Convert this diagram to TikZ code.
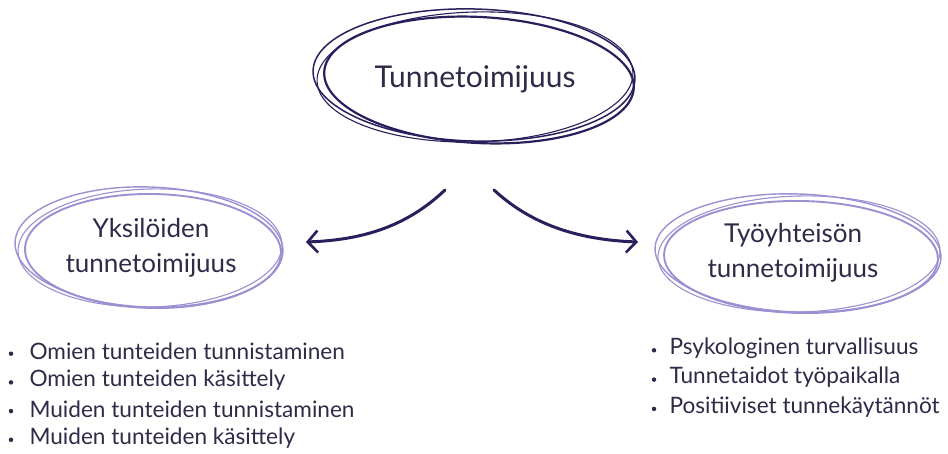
\documentclass[tikz,border=0pt]{standalone}
\usepackage{fontspec}
\setmainfont{Lato}
\usetikzlibrary{arrows.meta}
\definecolor{ink}{HTML}{2E2B48}
\definecolor{navy}{HTML}{2A1E5C}
\definecolor{lilac}{HTML}{9C8FD2}
\tikzset{
  title/.style={font=\fontsize{30}{34}\selectfont, text=ink, align=center},
  sub/.style={font=\fontsize{26}{35}\selectfont, text=ink, align=center},
  item/.style={font=\fontsize{22.6}{29}\selectfont, text=ink, anchor=west},
  bul/.style={circle, fill=ink, inner sep=0pt, minimum size=4.5pt},
  ringdark/.style={draw=navy, line width=#1},
  ringlight/.style={draw=lilac, line width=#1},
  flow/.style={navy, line width=3pt, line cap=round,
    -{Straight Barb[length=10pt,width=22pt,line width=2.6pt]}}
}
\begin{document}
\begin{tikzpicture}[x=1pt,y=-1pt]
\useasboundingbox (0,0) rectangle (948,453);

% top ring, three loose pen strokes
\node[title] (top) at (475,79) {Tunnetoimijuus};
\draw[ringdark=1.5pt, rotate around={-1.5:(474,75)}] (474,75) ellipse [x radius=161, y radius=66];
\draw[ringdark=1.1pt, rotate around={1.5:(475,77)}] (475,77) ellipse [x radius=158, y radius=65];
\draw[ringdark=2.2pt, rotate around={-3:(479,80)}] (479,80) ellipse [x radius=155, y radius=63];

% left ring
\node[sub] (left) at (151,248) {Yksilöiden\\tunnetoimijuus};
\draw[ringlight=1.4pt, rotate around={-2:(149,247)}] (149,247) ellipse [x radius=134, y radius=60];
\draw[ringlight=1.1pt, rotate around={1.5:(150,248)}] (150,248) ellipse [x radius=132, y radius=59];
\draw[ringlight=1.9pt, rotate around={-1:(153,251)}] (153,251) ellipse [x radius=128, y radius=57];

% right ring
\node[sub] (right) at (793,253) {Työyhteisön\\tunnetoimijuus};
\draw[ringlight=1.4pt, rotate around={-2:(798,253)}] (798,253) ellipse [x radius=143, y radius=59];
\draw[ringlight=1.1pt, rotate around={1.5:(799,254)}] (799,254) ellipse [x radius=141, y radius=58];
\draw[ringlight=1.9pt, rotate around={-1:(801,257)}] (801,257) ellipse [x radius=137, y radius=56];

% curved connectors
\coordinate (sl) at (445,190);
\coordinate (sr) at (494,190);
\coordinate (el) at (306,242);
\coordinate (er) at (638,242);
\draw[flow] (sl) .. controls (405,228) and (360,240) .. (el);
\draw[flow] (sr) .. controls (535,228) and (585,240) .. (er);

% left list
\foreach \t [count=\i] in {Omien tunteiden tunnistaminen, Omien tunteiden käsittely,
    Muiden tunteiden tunnistaminen, Muiden tunteiden käsittely} {
  \node[bul] (lb\i) at (11,{325+28.7*\i}) {};
  \node[item] (lt\i) at (26,{323+28.7*\i}) {\t};
}

% right list
\foreach \t [count=\i] in {Psykologinen turvallisuus, Tunnetaidot työpaikalla,
    Positiiviset tunnekäytännöt} {
  \node[bul] (rb\i) at (654,{321+29.3*\i}) {};
  \node[item] (rt\i) at (666,{319+29.3*\i}) {\t};
}
\end{tikzpicture}
\end{document}
